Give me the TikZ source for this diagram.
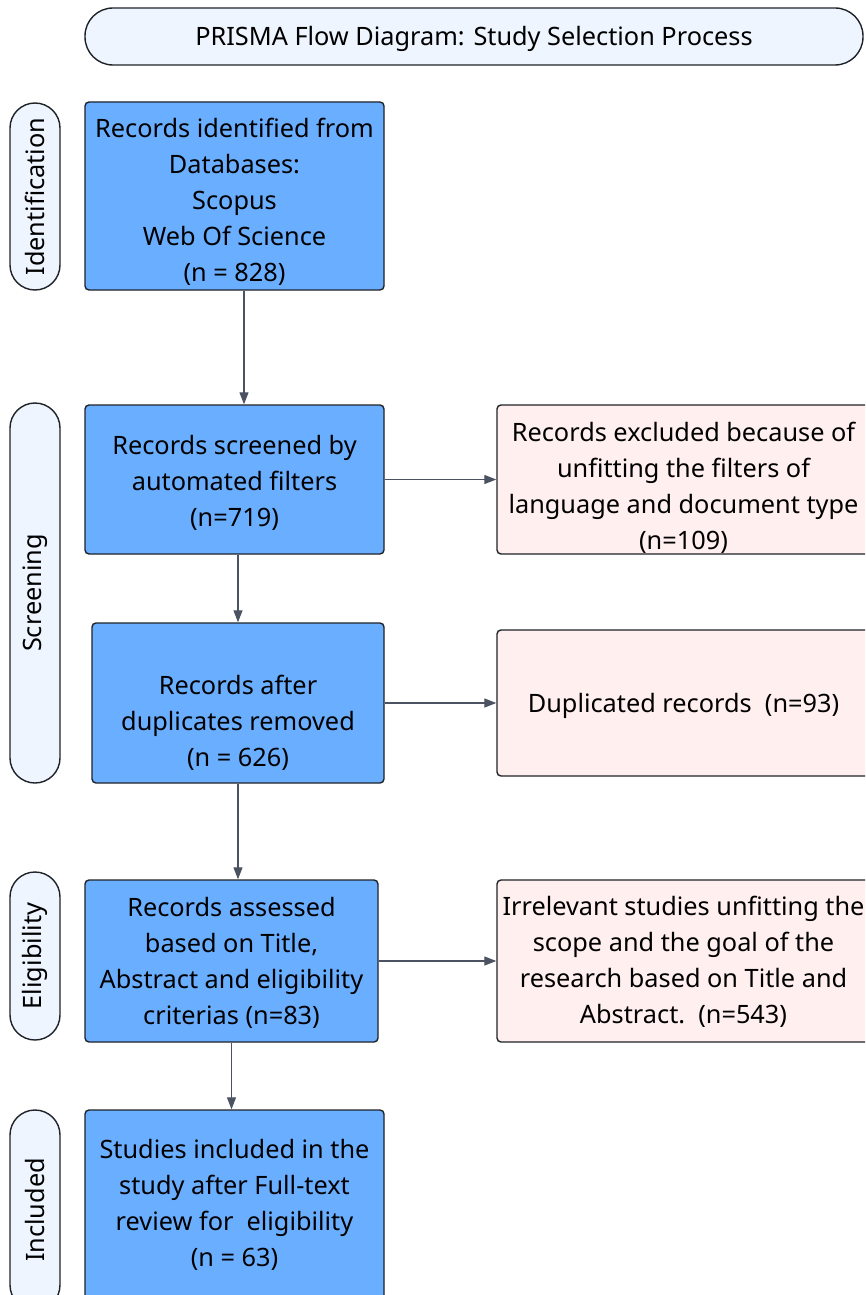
\documentclass[tikz,border=0pt]{standalone}
\usepackage{fontspec}
\setmainfont{Noto Sans}
\usetikzlibrary{arrows.meta}
\definecolor{bluefill}{HTML}{6AAEFF}
\definecolor{pinkfill}{HTML}{FFEFEF}
\definecolor{pillfill}{HTML}{EEF5FF}
\definecolor{edgec}{HTML}{1F2328}
\definecolor{arrowc}{HTML}{4B5261}
% push the text block of a box down by about #1 pt
\newcommand\dnshift[1]{\rule{0pt}{\the\numexpr 19+2*#1\relax pt}}
\begin{document}
\begin{tikzpicture}[x=1pt,y=-1pt,
  box/.style={draw=edgec, line width=1.4pt, rounded corners=4pt, align=center,
    inner sep=0pt, font=\fontsize{25.3}{36}\selectfont},
  bluebox/.style={box, fill=bluefill},
  pinkbox/.style={box, fill=pinkfill},
  pill/.style={draw=edgec, line width=1.4pt, fill=pillfill, rounded corners=25pt,
    inner sep=0pt, font=\fontsize{25.3}{36}\selectfont},
  conn/.style={draw=arrowc, line width=1.2pt, -{Triangle[length=12pt,width=9pt]}}]
\useasboundingbox (0,0) rectangle (865,1295);
\clip (0,0) rectangle (865,1295);
\fill[white] (0,0) rectangle (865,1295);

% title
\node[pill, rounded corners=28pt, minimum width=778pt, minimum height=57pt] (title) at (474,36.5)
  {\dnshift{3}PRISMA Flow Diagram: Study Selection Process};

% phase labels
\node[pill, rotate=90, minimum width=187pt, minimum height=50pt] (lid) at (35,196.5) {Identification};
\node[pill, rotate=90, minimum width=380pt, minimum height=50pt] (lscr) at (35,593) {Screening};
\node[pill, rotate=90, minimum width=168pt, minimum height=50pt] (lel) at (35,956) {Eligibility};
\node[pill, rotate=90, minimum width=200pt, minimum height=50pt] (linc) at (35,1210) {Included};

% main boxes
\node[bluebox, minimum width=299pt, minimum height=188pt] (b1) at (234.5,196)
  {\dnshift{6}Records identified from\\Databases:\\Scopus\\Web Of Science\\(n = 828)};
\node[bluebox, minimum width=299pt, minimum height=149pt] (b2) at (234.5,479.5)
  {\dnshift{3}Records screened by\\automated filters\\(n=719)};
\node[bluebox, minimum width=292pt, minimum height=160pt] (b3) at (238,703)
  {\dnshift{20}Records after\\duplicates removed\\(n = 626)};
\node[bluebox, minimum width=293pt, minimum height=162pt] (b4) at (231.5,961)
  {\dnshift{2}Records assessed\\based on Title,\\Abstract and eligibility\\criterias (n=83)};
\node[bluebox, minimum width=299pt, minimum height=190pt] (b5) at (234.5,1205)
  {Studies included in the\\study after Full-text\\review for\ \ eligibility\\(n = 63)};

% exclusion boxes
\node[pinkbox, minimum width=373pt, minimum height=149pt] (p1) at (683.5,479.5)
  {\dnshift{8}Records excluded because of\\unfitting the filters of\\language and document type\\(n=109)};
\node[pinkbox, minimum width=373pt, minimum height=146pt] (p2) at (683.5,703)
  {\dnshift{3}Duplicated records\ \ (n=93)};
\node[pinkbox, minimum width=373pt, minimum height=162pt] (p3) at (683.5,961)
  {\dnshift{1}Irrelevant studies unfitting the\\scope and the goal of the\\research based on Title and\\Abstract.\ \ (n=543)};

% connectors
\draw[conn] ([xshift=9.5pt]b1.south) -- ([xshift=9.5pt]b2.north);
\draw[conn] (b2.south -| b3.north) -- (b3.north);
\draw[conn] (b3.south) -- (b3.south |- b4.north);
\draw[conn] (b4.south) -- (b4.south |- b5.north);
\draw[conn] (b2.east) -- (b2.east -| p1.west);
\draw[conn] (b3.east) -- (p2.west);
\draw[conn] (b4.east) -- (p3.west);
\end{tikzpicture}
\end{document}
